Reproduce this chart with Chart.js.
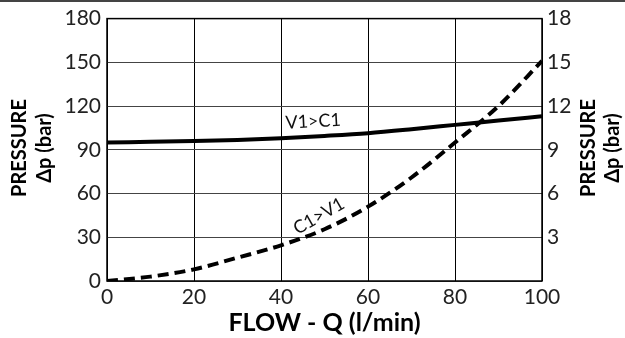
<!DOCTYPE html>
<html><head><meta charset="utf-8">
<script src="https://cdn.jsdelivr.net/npm/chart.js@4/dist/chart.umd.min.js"></script>
<style>html,body{margin:0;padding:0;background:#fff}#wrap{width:625px;height:338px;position:relative}</style>
</head><body><div id="wrap"><canvas id="c" width="625" height="338"></canvas></div>
<script>
const flow = [0,10,20,30,40,50,60,70,80,90,100];
const v1c1 = [95,95.5,96,96.8,97.9,99.5,101.4,104.1,107.1,110.1,113];
const c1v1 = [0,3,8,16,24.5,35.5,51,71,95,120,151];
const leftTicks = [0,30,60,90,120,150,180];
const rightTicks = [3,6,9,12,15,18];
const xTicks = [0,20,40,60,80,100];
const curveLabels = [
  {text:'V1>C1', x:47.4, y:109.5, angle:-3},
  {text:'C1>V1', x:48.7, y:44.5, angle:-30}
];
const xTitle = 'FLOW - Q (l/min)';
const yTitle1 = 'PRESSURE';
const yTitle2 = '\u0394p (bar)';

const FONT = 'Lato, "Open Sans", sans-serif';

const deco = {
  id:'deco',
  beforeDraw(chart){
    const ctx=chart.ctx;
    ctx.save();
    ctx.fillStyle='#444';
    ctx.fillRect(0,0,chart.width,2);
    ctx.restore();
  },
  afterDatasetsDraw(chart){
    const ctx=chart.ctx, xs=chart.scales.x, ys=chart.scales.y, a=chart.chartArea;
    ctx.save();
    ctx.strokeStyle='#000'; ctx.lineWidth=1.5;
    ctx.strokeRect(a.left,a.top,a.right-a.left,a.bottom-a.top);
    ctx.fillStyle='#111';
    ctx.font='18px '+FONT;
    ctx.textAlign='center'; ctx.textBaseline='middle';
    curveLabels.forEach(l=>{
      ctx.save();
      ctx.translate(xs.getPixelForValue(l.x), ys.getPixelForValue(l.y));
      ctx.rotate(l.angle*Math.PI/180);
      ctx.fillText(l.text,0,0);
      ctx.restore();
    });
    ctx.fillStyle='#000';
    ctx.font='bold 20px '+FONT;
    const cy=148;
    [[19.5,45],[589,613]].forEach(([x1,x2])=>{
      ctx.save(); ctx.translate(x1,cy); ctx.rotate(-Math.PI/2); ctx.fillText(yTitle1,0,0); ctx.restore();
      ctx.save(); ctx.translate(x2,cy); ctx.rotate(-Math.PI/2); ctx.fillText(yTitle2,0,0); ctx.restore();
    });
    ctx.restore();
  }
};

new Chart(document.getElementById('c'),{
  type:'line',
  data:{
    datasets:[
      {label:'V1>C1', data:flow.map((f,i)=>({x:f,y:v1c1[i]})), borderColor:'#000', borderWidth:4, pointRadius:0, cubicInterpolationMode:'monotone', yAxisID:'y'},
      {label:'C1>V1', data:flow.map((f,i)=>({x:f,y:c1v1[i]})), borderColor:'#000', borderWidth:4, borderDash:[11,6], pointRadius:0, cubicInterpolationMode:'monotone', yAxisID:'y'}
    ]
  },
  options:{
    responsive:false, animation:false,
    layout:{padding:{top:18,left:0,right:0,bottom:0}},
    plugins:{legend:{display:false},tooltip:{enabled:false}},
    scales:{
      x:{type:'linear',min:0,max:100,
        afterBuildTicks(s){s.ticks=xTicks.map(v=>({value:v}));},
        afterFit(s){s.height=57;},
        grid:{color:'#000',lineWidth:1,drawTicks:false},
        border:{display:false},
        ticks:{color:'#222',font:{size:21,family:FONT},padding:4,maxRotation:0},
        title:{display:true,text:xTitle,color:'#000',font:{size:25,weight:'bold',family:FONT},padding:{top:2,bottom:0}}
      },
      y:{type:'linear',position:'left',min:0,max:180,
        afterBuildTicks(s){s.ticks=leftTicks.map(v=>({value:v}));},
        afterFit(s){s.width=107;},
        grid:{color:'#444',lineWidth:1,drawTicks:false},
        border:{display:false},
        ticks:{color:'#222',font:{size:21,family:FONT},padding:6}
      },
      y2:{type:'linear',position:'right',min:0,max:18,
        afterBuildTicks(s){s.ticks=rightTicks.map(v=>({value:v}));},
        afterFit(s){s.width=83;},
        grid:{display:false,drawTicks:false},
        border:{display:false},
        ticks:{color:'#222',font:{size:21,family:FONT},padding:5}
      }
    }
  },
  plugins:[deco]
});
</script></body></html>
